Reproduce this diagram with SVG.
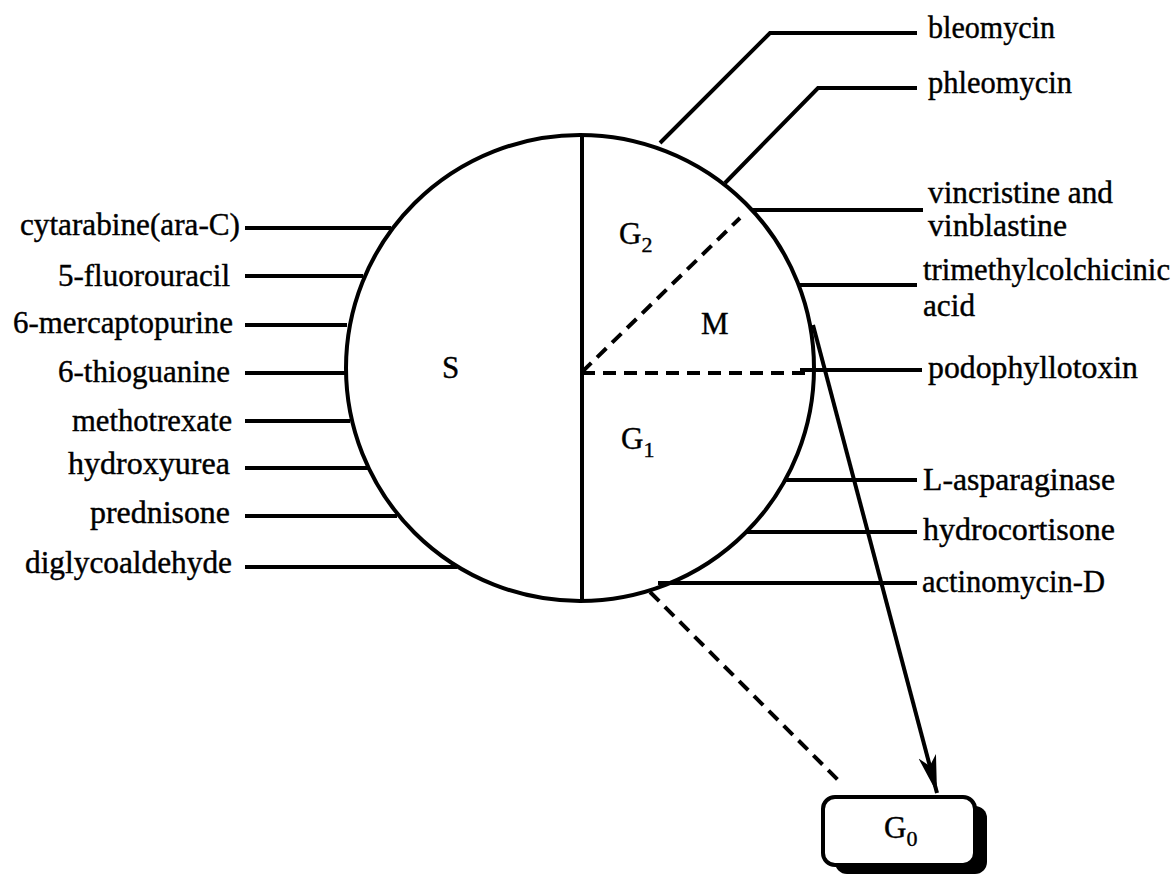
<svg xmlns="http://www.w3.org/2000/svg" width="1175" height="877" viewBox="0 0 1175 877">
<style>
text{font-family:"Liberation Serif","Times New Roman",serif;font-size:31px;fill:#000;stroke:#000;stroke-width:0.4}
.ln{stroke:#000;stroke-width:4;fill:none}
.dash{stroke:#000;stroke-width:4;fill:none;stroke-dasharray:13 8}
.sub{font-size:22px}
</style>
<defs>
<marker id="arr" viewBox="0 0 40 20" refX="38" refY="10" markerWidth="40" markerHeight="20" markerUnits="userSpaceOnUse" orient="auto">
<path d="M0,1 L38,10 L0,19 L10,10 Z" fill="#000"/>
</marker>
</defs>
<rect width="1175" height="877" fill="#fff"/>
<g id="cycle">
<ellipse cx="580" cy="368" rx="234" ry="233" class="ln" stroke-width="4.5"/>
<line x1="582" y1="135" x2="582" y2="601" class="ln" stroke-width="3.5"/>
<line x1="582" y1="372" x2="740" y2="218" class="dash"/>
<line x1="582" y1="373" x2="812" y2="373" class="dash"/>
<text x="442" y="378">S</text>
<text x="619" y="244">G<tspan class="sub" dy="8">2</tspan></text>
<text x="701" y="334">M</text>
<text x="621" y="449">G<tspan class="sub" dy="8">1</tspan></text>
</g>
<g id="G0">
<rect x="835" y="806" width="152" height="68" rx="12" fill="#000"/>
<rect x="823" y="797" width="152" height="68" rx="12" fill="#fff" stroke="#000" stroke-width="4"/>
<text x="884" y="838">G<tspan class="sub" dy="8">0</tspan></text>
</g>
<g id="connectors">
<line x1="245" y1="228" x2="391" y2="228" class="ln"/>
<line x1="245" y1="276" x2="363" y2="276" class="ln"/>
<line x1="245" y1="325" x2="347" y2="325" class="ln"/>
<line x1="245" y1="373" x2="345" y2="373" class="ln"/>
<line x1="245" y1="421" x2="350" y2="421" class="ln"/>
<line x1="245" y1="468" x2="368" y2="468" class="ln"/>
<line x1="245" y1="516" x2="397" y2="516" class="ln"/>
<line x1="245" y1="567" x2="457" y2="567" class="ln"/>
<polyline points="660,143 770,33 917,33" class="ln"/>
<polyline points="725,183 818,88 917,88" class="ln"/>
<line x1="752" y1="210" x2="923" y2="210" class="ln"/>
<line x1="799" y1="285" x2="917" y2="285" class="ln"/>
<line x1="800" y1="370" x2="922" y2="370" class="ln"/>
<line x1="785" y1="480" x2="917" y2="480" class="ln"/>
<line x1="747" y1="532" x2="917" y2="532" class="ln"/>
<line x1="658" y1="583" x2="917" y2="583" class="ln" stroke-width="3"/>
<line x1="813" y1="325" x2="937" y2="793" class="ln" stroke-width="3" marker-end="url(#arr)"/>
<line x1="650" y1="592" x2="843" y2="785" class="dash" stroke-dasharray="14 9"/>
</g>
<g id="labels-left">
<text x="20" y="235" textLength="220" lengthAdjust="spacingAndGlyphs">cytarabine(ara-C)</text>
<text x="58" y="286" textLength="172" lengthAdjust="spacingAndGlyphs">5-fluorouracil</text>
<text x="13" y="333" textLength="220" lengthAdjust="spacingAndGlyphs">6-mercaptopurine</text>
<text x="58" y="382" textLength="172" lengthAdjust="spacingAndGlyphs">6-thioguanine</text>
<text x="72" y="431" textLength="160" lengthAdjust="spacingAndGlyphs">methotrexate</text>
<text x="68" y="474" textLength="162" lengthAdjust="spacingAndGlyphs">hydroxyurea</text>
<text x="90" y="523" textLength="140" lengthAdjust="spacingAndGlyphs">prednisone</text>
<text x="25" y="573" textLength="207" lengthAdjust="spacingAndGlyphs">diglycoaldehyde</text>
</g>
<g id="labels-right">
<text x="928" y="38" textLength="127" lengthAdjust="spacingAndGlyphs">bleomycin</text>
<text x="928" y="93" textLength="144" lengthAdjust="spacingAndGlyphs">phleomycin</text>
<text x="928" y="203" textLength="185" lengthAdjust="spacingAndGlyphs">vincristine and</text>
<text x="928" y="236" textLength="139" lengthAdjust="spacingAndGlyphs">vinblastine</text>
<text x="923" y="280" textLength="247" lengthAdjust="spacingAndGlyphs">trimethylcolchicinic</text>
<text x="923" y="316" textLength="52" lengthAdjust="spacingAndGlyphs">acid</text>
<text x="928" y="378" textLength="210" lengthAdjust="spacingAndGlyphs">podophyllotoxin</text>
<text x="923" y="490" textLength="192" lengthAdjust="spacingAndGlyphs">L-asparaginase</text>
<text x="923" y="540" textLength="192" lengthAdjust="spacingAndGlyphs">hydrocortisone</text>
<text x="922" y="592" textLength="183" lengthAdjust="spacingAndGlyphs">actinomycin-D</text>
</g>
</svg>
